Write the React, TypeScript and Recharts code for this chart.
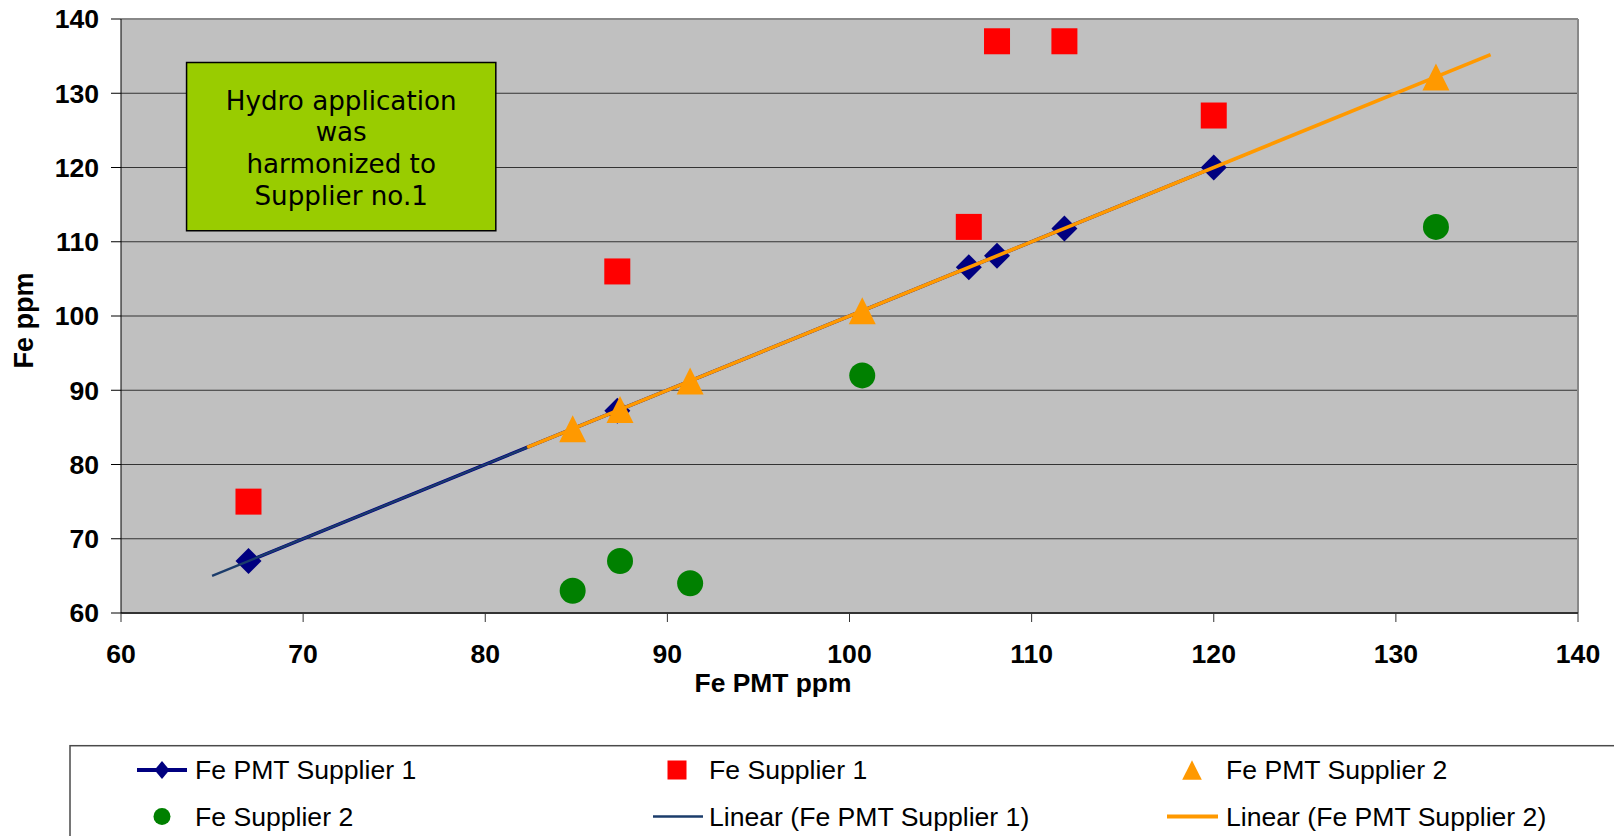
import React from 'react';
import {
  ScatterChart,
  Scatter,
  XAxis,
  YAxis,
  CartesianGrid,
  ReferenceArea,
  ReferenceLine,
  Legend,
} from 'recharts';

// ---------- data ----------
const AXIS_TICKS = [60, 70, 80, 90, 100, 110, 120, 130, 140];

// Supplier 1: PMT measurement (x) and supplier measurement
const pmtSupplier1 = [67, 87.25, 106.55, 108.1, 111.8, 120];
const feSupplier1 = [75, 106, 112, 137, 137, 127];

// Supplier 2
const pmtSupplier2 = [84.8, 87.4, 91.25, 100.7, 132.2];
const feSupplier2 = [63, 67, 64, 92, 112];

// trendline x extents (Excel forecast backward / forward)
const trend1Extent = [65, 122];
const trend2Extent = [82.3, 135.2];

const SERIES_NAMES = [
  'Fe PMT Supplier 1',
  'Fe Supplier 1',
  'Fe PMT Supplier 2',
  'Fe Supplier 2',
  'Linear (Fe PMT Supplier 1)',
  'Linear (Fe PMT Supplier 2)',
];

const NOTE_LINES = ['Hydro application', 'was', 'harmonized to', 'Supplier no.1'];
const NOTE_AREA = { x1: 63.6, x2: 80.58, y1: 111.49, y2: 134.15 };

const X_TITLE = 'Fe PMT ppm';
const Y_TITLE = 'Fe ppm';

// ---------- derived ----------
const s1 = pmtSupplier1.map((x) => ({ x, y: x }));
const r1 = pmtSupplier1.map((x, i) => ({ x, y: feSupplier1[i] }));
const s2 = pmtSupplier2.map((x) => ({ x, y: x }));
const g2 = pmtSupplier2.map((x, i) => ({ x, y: feSupplier2[i] }));

function linearFit(pts: { x: number; y: number }[]) {
  const n = pts.length;
  const mx = pts.reduce((a, p) => a + p.x, 0) / n;
  const my = pts.reduce((a, p) => a + p.y, 0) / n;
  let sxy = 0;
  let sxx = 0;
  pts.forEach((p) => {
    sxy += (p.x - mx) * (p.y - my);
    sxx += (p.x - mx) * (p.x - mx);
  });
  const slope = sxy / sxx;
  const intercept = my - slope * mx;
  return (x: number) => slope * x + intercept;
}
const f1 = linearFit(s1);
const f2 = linearFit(s2);
const trend1 = trend1Extent.map((x) => ({ x, y: f1(x) }));
const trend2 = trend2Extent.map((x) => ({ x, y: f2(x) }));

// ---------- styles ----------
const NAVY = '#000080';
const RED = '#FF0000';
const ORANGE = '#FF9900';
const GREEN = '#008000';
const TREND1 = '#1B3C6B';
const ARIAL = '"Liberation Sans", Arial, sans-serif';
const VERDANA = '"DejaVu Sans", Verdana, sans-serif';

const MARK = 13;

const Diamond = (p: any) => {
  const { cx, cy } = p;
  if (cx == null || cy == null) return <g />;
  const r = MARK;
  return <path d={`M${cx},${cy - r}L${cx + r},${cy}L${cx},${cy + r}L${cx - r},${cy}Z`} fill={NAVY} />;
};
const Square = (p: any) => {
  const { cx, cy } = p;
  if (cx == null || cy == null) return <g />;
  return <rect x={cx - MARK} y={cy - MARK} width={MARK * 2} height={MARK * 2} fill={RED} />;
};
const Triangle = (p: any) => {
  const { cx, cy } = p;
  if (cx == null || cy == null) return <g />;
  const h = 13.5;
  return <path d={`M${cx},${cy - h}L${cx + h},${cy + h}L${cx - h},${cy + h}Z`} fill={ORANGE} />;
};
const Circle = (p: any) => {
  const { cx, cy } = p;
  if (cx == null || cy == null) return <g />;
  return <circle cx={cx} cy={cy} r={MARK} fill={GREEN} />;
};
const Empty = () => <g />;

const NoteLabel = (props: any) => {
  const vb = props.viewBox || {};
  const cx = vb.x + vb.width / 2;
  const cy = vb.y + vb.height / 2;
  const lh = 31.7;
  const first = cy - 1.5 * lh + 10.5;
  return (
    <text textAnchor="middle" fontFamily={VERDANA} fontSize={26.2} fill="#000">
      {NOTE_LINES.map((l, i) => (
        <tspan key={i} x={cx} y={first + i * lh}>
          {l}
        </tspan>
      ))}
    </text>
  );
};

const XTitle = (props: any) => {
  const vb = props.viewBox || {};
  return (
    <text x={vb.x + 652} y={vb.y + 78.5} textAnchor="middle" fontFamily={ARIAL} fontWeight={700} fontSize={26.4} fill="#000">
      {X_TITLE}
    </text>
  );
};

const YTitle = (props: any) => {
  const vb = props.viewBox || {};
  const x = 33.3;
  const y = vb.y + vb.height / 2 + 4.5;
  return (
    <text x={x} y={y} transform={`rotate(-90, ${x}, ${y})`} textAnchor="middle" fontFamily={ARIAL} fontWeight={700} fontSize={27} fill="#000">
      {Y_TITLE}
    </text>
  );
};

const legendMarker = (i: number, cx: number, cy: number) => {
  switch (i) {
    case 0:
      return (
        <g>
          <line x1={cx - 25} x2={cx + 25} y1={cy} y2={cy} stroke={NAVY} strokeWidth={4} />
          <path d={`M${cx},${cy - 9}L${cx + 7.5},${cy}L${cx},${cy + 9}L${cx - 7.5},${cy}Z`} fill={NAVY} />
        </g>
      );
    case 1:
      return <rect x={cx - 9.5} y={cy - 9.5} width={19} height={19} fill={RED} />;
    case 2:
      return <path d={`M${cx},${cy - 9.7}L${cx + 9.8},${cy + 9.7}L${cx - 9.8},${cy + 9.7}Z`} fill={ORANGE} />;
    case 3:
      return <circle cx={cx} cy={cy} r={8.5} fill={GREEN} />;
    case 4:
      return <line x1={cx - 24} x2={cx + 26} y1={cy} y2={cy} stroke={TREND1} strokeWidth={2.5} />;
    default:
      return <line x1={cx - 25} x2={cx + 26} y1={cy} y2={cy} stroke={ORANGE} strokeWidth={4} />;
  }
};

const LEGEND_COL_TEXT = [195, 709, 1226];
const LEGEND_COL_MARK = [162, 677, 1192];
const LEGEND_ROW_MID = [770, 816.5];

const renderLegend = () => (
  <svg width={1614} height={836} style={{ position: 'absolute', left: 0, top: 0 }}>
    <rect x={70} y={745.7} width={1560} height={120} fill="#fff" stroke="#4a4a4a" strokeWidth={1.5} />
    {SERIES_NAMES.map((name, i) => {
      const col = i % 3;
      const row = Math.floor(i / 3);
      const cy = LEGEND_ROW_MID[row];
      return (
        <g key={name}>
          {legendMarker(i, LEGEND_COL_MARK[col], cy)}
          <text x={LEGEND_COL_TEXT[col]} y={cy + 9} fontFamily={ARIAL} fontSize={26.6} fill="#000">
            {name}
          </text>
        </g>
      );
    })}
  </svg>
);

export default function App() {
  return (
    <div style={{ position: 'absolute', left: 0, top: 0, width: 1614, height: 836, background: '#fff' }}>
      <ScatterChart width={1614} height={836} margin={{ top: 19, right: 36, bottom: 0, left: 0 }}>
        <CartesianGrid vertical={false} stroke="#333" fill="#C0C0C0" fillOpacity={1} />
        <XAxis
          type="number"
          dataKey="x"
          domain={[60, 140]}
          ticks={AXIS_TICKS}
          interval={0}
          allowDataOverflow
          height={223}
          tickSize={9}
          tickMargin={22.5}
          axisLine={{ stroke: '#333', strokeWidth: 2 }}
          tickLine={{ stroke: '#333' }}
          tick={{ fill: '#000', fontSize: 26.6, fontWeight: 700, fontFamily: ARIAL }}
          label={XTitle}
        />
        <YAxis
          type="number"
          dataKey="y"
          domain={[60, 140]}
          ticks={AXIS_TICKS}
          interval={0}
          allowDataOverflow
          width={121}
          tickSize={10}
          tickMargin={12}
          axisLine={{ stroke: '#000', strokeWidth: 1 }}
          tickLine={{ stroke: '#000' }}
          tick={{ fill: '#000', fontSize: 26.6, fontWeight: 700, fontFamily: ARIAL }}
          label={YTitle}
        />
        <ReferenceLine y={140} stroke="#888" strokeWidth={2} />
        <ReferenceLine x={140} stroke="#888" strokeWidth={2} />
        <ReferenceArea
          x1={NOTE_AREA.x1}
          x2={NOTE_AREA.x2}
          y1={NOTE_AREA.y1}
          y2={NOTE_AREA.y2}
          fill="#99CC00"
          fillOpacity={1}
          stroke="#000"
          strokeWidth={1.5}
          label={NoteLabel}
        />
        <Scatter name={SERIES_NAMES[0]} data={s1} fill={NAVY} line={{ stroke: NAVY, strokeWidth: 3.5 }} shape={Diamond} isAnimationActive={false} />
        <Scatter name={SERIES_NAMES[1]} data={r1} fill={RED} shape={Square} isAnimationActive={false} />
        <Scatter name={SERIES_NAMES[4]} data={trend1} fill={TREND1} line={{ stroke: TREND1, strokeWidth: 2.2 }} shape={Empty} isAnimationActive={false} />
        <Scatter name={SERIES_NAMES[5]} data={trend2} fill={ORANGE} line={{ stroke: ORANGE, strokeWidth: 3.6 }} shape={Empty} isAnimationActive={false} />
        <Scatter name={SERIES_NAMES[2]} data={s2} fill={ORANGE} shape={Triangle} isAnimationActive={false} />
        <Scatter name={SERIES_NAMES[3]} data={g2} fill={GREEN} shape={Circle} isAnimationActive={false} />
        <Legend
          layout="horizontal"
          verticalAlign="middle"
          align="center"
          content={renderLegend}
          wrapperStyle={{ position: 'absolute', left: 0, top: 0, width: 1614, height: 836, pointerEvents: 'none' }}
        />
      </ScatterChart>
    </div>
  );
}
